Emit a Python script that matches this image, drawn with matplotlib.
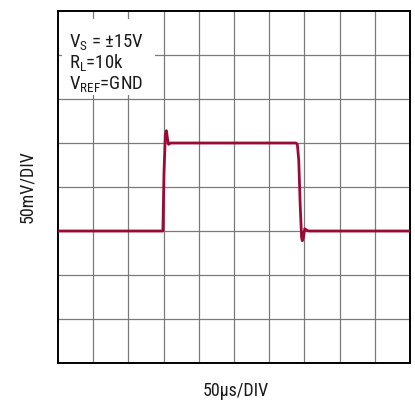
import matplotlib.pyplot as plt

# trace, in divisions (x: 50us/div, y: 50mV/div)
t_div = [0.0, 2.98, 3.01, 3.05, 3.08, 3.11, 3.14, 3.2, 6.76, 6.8, 6.84, 6.88, 6.92, 6.94, 6.97, 7.01, 7.06, 7.12, 10.0]
v_div = [3.0, 3.0, 4.3, 5.2, 5.28, 5.1, 4.97, 5.0, 5.0, 4.97, 4.6, 3.6, 2.85, 2.78, 2.85, 3.05, 3.02, 3.0, 3.0]

n_xdiv = 10
n_ydiv = 8
trace_color = '#9b0a35'

font = 'Roboto Condensed'
plt.rcParams['font.family'] = [font, 'DejaVu Sans']
plt.rcParams['mathtext.fontset'] = 'custom'
plt.rcParams['mathtext.rm'] = font
plt.rcParams['mathtext.it'] = font

fig = plt.figure(figsize=(4.15, 4.02), dpi=100)
ax = fig.add_axes([58 / 415, 1 - 364 / 402, 352 / 415, 352 / 402])

ax.set_xlim(0, n_xdiv)
ax.set_ylim(0, n_ydiv)
for i in range(1, n_xdiv):
    ax.axvline(i, color='#7a7a7a', lw=0.9, zorder=1)
for i in range(1, n_ydiv):
    ax.axhline(i, color='#7a7a7a', lw=0.9, zorder=1)

ax.plot(t_div, v_div, color=trace_color, lw=2.0, zorder=3, solid_capstyle='round', solid_joinstyle='round')

ax.set_xticks([])
ax.set_yticks([])
for s in ax.spines.values():
    s.set_linewidth(1.4)
    s.set_color('black')

# white box behind the conditions text
box = plt.Rectangle((0.12, 6.08), 2.64, 1.74, facecolor='white', edgecolor='none', zorder=2)
ax.add_patch(box)

ax.text(0.3, 7.2, r'V$_\mathregular{S}$ = ±15V', fontsize=13.5, zorder=4, va='baseline', color='#1a1a1a')
ax.text(0.3, 6.73, r'R$_\mathregular{L}$=10k', fontsize=13.5, zorder=4, va='baseline', color='#1a1a1a')
ax.text(0.3, 6.25, r'V$_\mathregular{REF}$=GND', fontsize=13.5, zorder=4, va='baseline', color='#1a1a1a')

fig.text(27 / 415, 1 - 187 / 402, '50mV/DIV', rotation=90, ha='center', va='center', fontsize=13, color='#1a1a1a')
fig.text(236 / 415, 1 - 391 / 402, '50µs/DIV', ha='center', va='center', fontsize=13, color='#1a1a1a')

plt.savefig('out.png', dpi=100)
